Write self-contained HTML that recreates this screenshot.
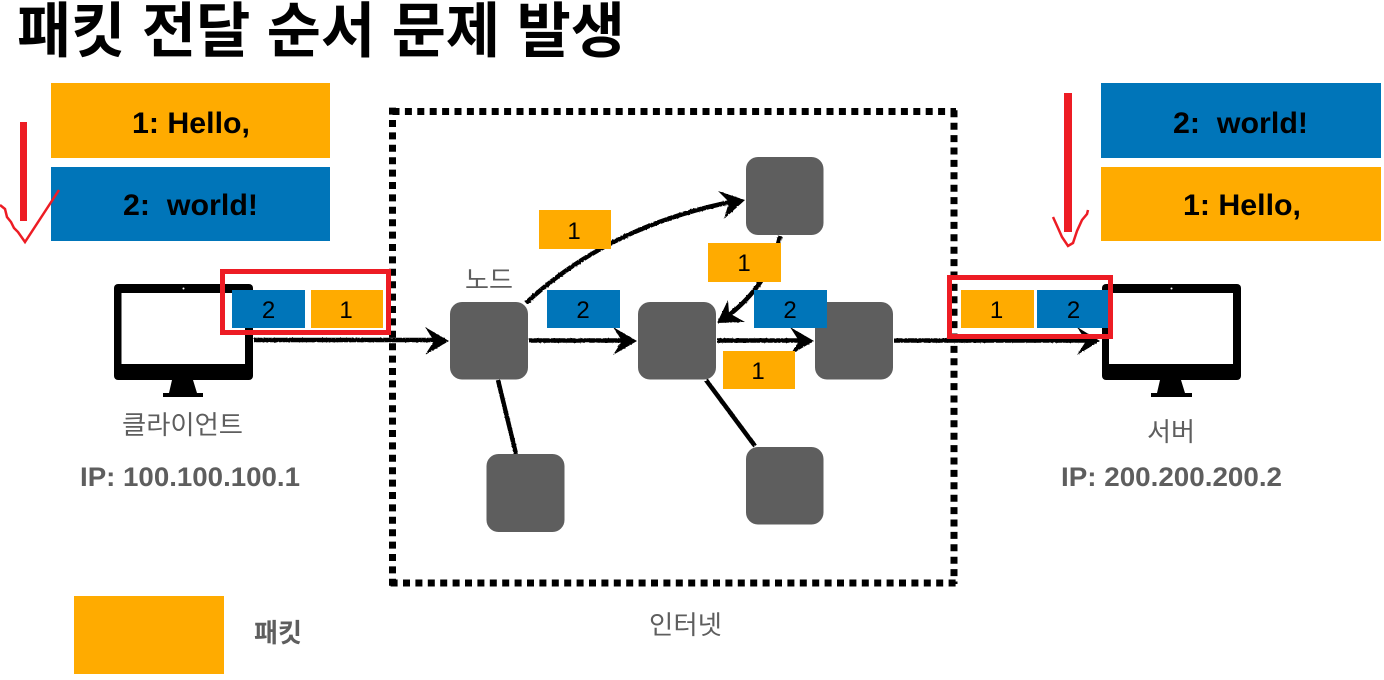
<!DOCTYPE html>
<html lang="ko">
<head>
<meta charset="utf-8">
<title>패킷 전달 순서 문제 발생</title>
<style>
html,body{margin:0;padding:0;background:#fff;width:1384px;height:680px;overflow:hidden}
svg{display:block}
text{font-family:"Liberation Sans","Noto Sans CJK KR",sans-serif}
.kr{font-family:"Noto Sans CJK KR","NanumGothic",sans-serif}
.big{font-size:30px;font-weight:700;fill:#000}
.num{font-size:24px;fill:#000;text-anchor:middle}
.lab{font-size:26px;fill:#5e5e5e}
.ip{font-size:27px;font-weight:700;fill:#5e5e5e}
.o{fill:#ffab00}
.b{fill:#0075b9}
.n{fill:#5e5e5e}
.ln{fill:none;stroke:#000;stroke-width:4.5}
.r{fill:none;stroke:#ed1c24}
.d{fill:none;stroke:#000;stroke-width:7;stroke-dasharray:7 5.4}
</style>
</head>
<body>
<svg width="1384" height="680" viewBox="0 0 1384 680" xmlns="http://www.w3.org/2000/svg">
<defs>
<filter id="rough" x="-5%" y="-20%" width="110%" height="140%" filterUnits="objectBoundingBox">
<feTurbulence type="fractalNoise" baseFrequency="0.5" numOctaves="1" seed="3"/>
<feDisplacementMap in="SourceGraphic" scale="1.6"/>
</filter>
</defs>

<text class="kr" x="17" y="52" font-size="60" font-weight="700" fill="#000" textLength="608" lengthAdjust="spacingAndGlyphs">패킷 전달 순서 문제 발생</text>

<rect class="o" x="51" y="83" width="279" height="75"/>
<rect class="b" x="51" y="167" width="279" height="74"/>
<text class="big" x="132" y="133" textLength="118" lengthAdjust="spacingAndGlyphs">1: Hello,</text>
<text class="big" x="123" y="215" textLength="135" lengthAdjust="spacingAndGlyphs" xml:space="preserve">2:  world!</text>

<rect class="b" x="1101" y="83" width="280" height="75"/>
<rect class="o" x="1101" y="167" width="280" height="74"/>
<text class="big" x="1173" y="133" textLength="135" lengthAdjust="spacingAndGlyphs" xml:space="preserve">2:  world!</text>
<text class="big" x="1183" y="215" textLength="118" lengthAdjust="spacingAndGlyphs">1: Hello,</text>

<path class="d" d="M392.500 111.500H956"/>
<path class="d" d="M954 110.300V584"/>
<path class="d" d="M955.600 583H389"/>
<path class="d" d="M392.500 107.600V587"/>

<g>
<rect x="114" y="284" width="139" height="96" rx="4" fill="#000"/>
<rect x="121.500" y="293" width="123.500" height="71" fill="#fff"/>
<circle cx="183.500" cy="288.500" r="1" fill="#fff"/>
<path d="M172 380H193L197 393H203V397H163V393H169Z" fill="#000"/>
</g>
<g>
<rect x="1102" y="284" width="139" height="96" rx="4" fill="#000"/>
<rect x="1109" y="293" width="124" height="71" fill="#fff"/>
<circle cx="1171.500" cy="288.500" r="1" fill="#fff"/>
<path d="M1160 380H1181L1185 393H1192V397H1151V393H1157Z" fill="#000"/>
</g>

<g filter="url(#rough)">
<path class="ln" d="M254 340H445"/>
<path class="ln" d="M529 340.500H632"/>
<path class="ln" d="M717 340.500H808"/>
<path class="ln" d="M894 340.500H1095"/>
<path class="ln" d="M526 303Q610 225 736 201"/>
<path class="ln" d="M780 236Q770 285 724 319"/>
<path class="ln" d="M498 380L516 454"/>
<path class="ln" d="M706 380L755 446"/>
<path d="M449 341L425 327L434 341L425 355Z" fill="#000"/>
<path d="M637 341L613 327L622 341L613 355Z" fill="#000"/>
<path d="M814 341L790 327L799 341L790 355Z" fill="#000"/>
<path d="M1100 341L1077 327L1086 341L1077 355Z" fill="#000"/>
<path d="M745 200L718 191L729 202L724 219Z" fill="#000"/>
<path d="M717 323L728 300L729 313L745 322Z" fill="#000"/>
</g>

<rect class="n" x="450" y="302" width="78" height="77.500" rx="12"/>
<rect class="n" x="638" y="302" width="78" height="77.500" rx="12"/>
<rect class="n" x="815" y="302" width="78" height="77.500" rx="12"/>
<rect class="n" x="746" y="157" width="77.500" height="78" rx="12"/>
<rect class="n" x="746" y="447" width="77.500" height="77.500" rx="12"/>
<rect class="n" x="486.500" y="454" width="78" height="78" rx="12"/>

<rect class="o" x="539" y="210" width="72" height="39"/><text class="num" x="574" y="239">1</text>
<rect class="o" x="708" y="243" width="73" height="39"/><text class="num" x="744" y="271">1</text>
<rect class="b" x="547" y="290" width="73" height="38"/><text class="num" x="583" y="318">2</text>
<rect class="b" x="754" y="290" width="73" height="38"/><text class="num" x="790" y="318">2</text>
<rect class="o" x="723" y="351" width="72" height="38"/><text class="num" x="758" y="379">1</text>

<rect class="b" x="232" y="290" width="73" height="38"/><text class="num" x="268.500" y="318">2</text>
<rect class="o" x="311" y="290" width="72" height="38"/><text class="num" x="346" y="318">1</text>
<rect class="o" x="961" y="290" width="73" height="38"/><text class="num" x="996.500" y="318">1</text>
<rect class="b" x="1037" y="290" width="71" height="38"/><text class="num" x="1073.500" y="318">2</text>

<rect class="r" x="222.500" y="271.500" width="166" height="61" stroke-width="5"/>
<rect class="r" x="949.500" y="277.500" width="161" height="59" stroke-width="5"/>

<rect x="20" y="122" width="7" height="99" fill="#ed1c24"/>
<rect x="1064" y="93" width="8" height="139" fill="#ed1c24"/>
<path class="r" stroke-width="2.500" d="M0 205L5 209L7 217L11 222L14 228L18 232L25 242L59 190"/>
<path class="r" stroke-width="2.500" d="M1053 217L1058 228L1062 237L1068 246L1073 243L1077 231L1082 220L1087 214L1088 210"/>

<text class="lab kr" x="122" y="434" textLength="121" lengthAdjust="spacingAndGlyphs">클라이언트</text>
<text class="ip" x="80" y="486" textLength="220" lengthAdjust="spacingAndGlyphs">IP: 100.100.100.1</text>
<text class="lab kr" x="1147" y="441" textLength="48" lengthAdjust="spacingAndGlyphs">서버</text>
<text class="ip" x="1061" y="486" textLength="221" lengthAdjust="spacingAndGlyphs">IP: 200.200.200.2</text>
<text class="lab kr" x="465" y="289" textLength="48" lengthAdjust="spacingAndGlyphs">노드</text>
<text class="lab kr" x="649" y="634" textLength="73" lengthAdjust="spacingAndGlyphs">인터넷</text>

<rect class="o" x="74" y="596" width="150" height="78"/>
<text class="kr" x="254" y="642" font-size="26" font-weight="700" fill="#5e5e5e" textLength="48" lengthAdjust="spacingAndGlyphs">패킷</text>
</svg>
</body>
</html>
